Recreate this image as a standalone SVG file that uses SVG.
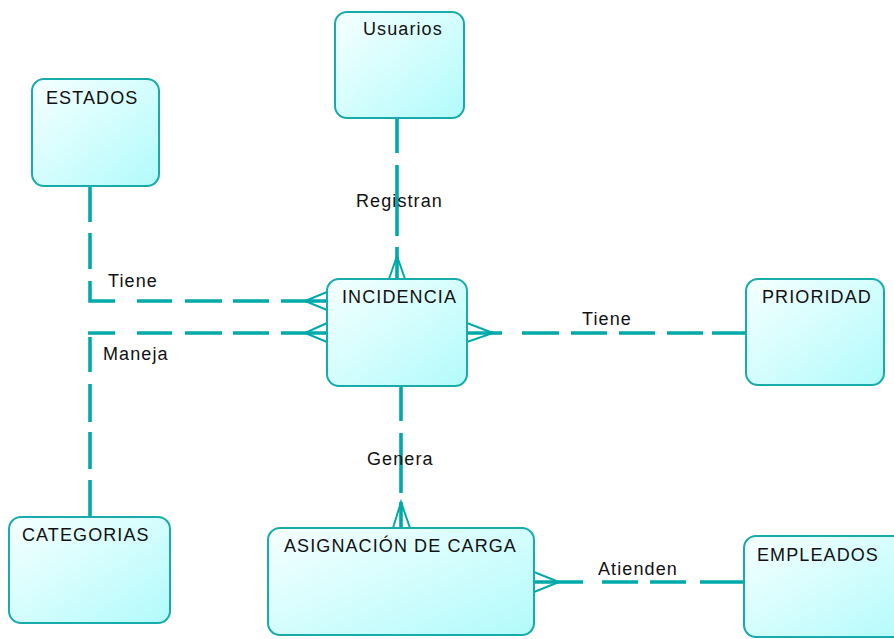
<svg xmlns="http://www.w3.org/2000/svg" width="894" height="639" viewBox="0 0 894 639">
  <defs>
    <linearGradient id="entityFill" x1="0" y1="0" x2="1" y2="1">
      <stop offset="0" stop-color="#f6ffff"/>
      <stop offset="1" stop-color="#b2fbfb"/>
    </linearGradient>
    <style>
      .entity rect { fill: url(#entityFill); stroke: #17abab; stroke-width: 2; }
      .entity text { font-family: "Liberation Sans", Arial, sans-serif; font-size: 18px; letter-spacing: 1.1px; fill: #111; }
      .rel { stroke: #00a9a9; stroke-width: 3.6; fill: none; stroke-linecap: butt; }
      .foot { stroke: #00a9a9; stroke-width: 2; fill: none; }
      .label { font-family: "Liberation Sans", Arial, sans-serif; font-size: 18px; letter-spacing: 1.1px; fill: #111; }
    </style>
  </defs>

  <rect width="894" height="639" fill="#ffffff"/>

  <!-- relationships -->
  <g id="connectors">
    <!-- Usuarios registran INCIDENCIA -->
    <path class="rel" d="M397 118V153M397 165V236M397 247V279"/>
    <path class="foot" d="M389 279L397 256L405 279"/>
    <text class="label" x="356" y="207">Registran</text>

    <!-- INCIDENCIA genera ASIGNACIÓN DE CARGA -->
    <path class="rel" d="M401 386V421M401 433V493M401 502V528"/>
    <path class="foot" d="M393 528L401 502L410 528"/>
    <text class="label" x="367" y="465">Genera</text>

    <!-- INCIDENCIA tiene PRIORIDAD -->
    <path class="rel" d="M467 333H502M522 333H559M571 333H607M619 333H655M667 333H703M712 333H746"/>
    <path class="foot" d="M467 323L493 333L467 342"/>
    <text class="label" x="582" y="325">Tiene</text>

    <!-- ESTADOS tiene INCIDENCIA -->
    <path class="rel" d="M90 186V222M90 233V269M90 281V301H115M137 301H172M185 301H222M233 301H269M281 301H327"/>
    <path class="foot" d="M327 292L305 301L327 310"/>
    <text class="label" x="108" y="287">Tiene</text>

    <!-- CATEGORIAS maneja INCIDENCIA -->
    <path class="rel" d="M90 517V480M90 469V432M90 422V384M90 372V337"/>
    <path class="rel" d="M88 333H115M137 333H172M185 333H222M233 333H269M281 333H327"/>
    <path class="foot" d="M327 323L305 333L327 342"/>
    <text class="label" x="103" y="360">Maneja</text>

    <!-- ASIGNACIÓN DE CARGA atienden EMPLEADOS -->
    <path class="rel" d="M534 582H583M602 582H638M650 582H686M700 582H744"/>
    <path class="foot" d="M534 572L559 582L534 592"/>
    <text class="label" x="598" y="575">Atienden</text>
  </g>

  <!-- entities -->
  <g id="usuarios" class="entity">
    <rect x="335" y="12" width="129" height="106" rx="12"/>
    <text x="363" y="35">Usuarios</text>
  </g>
  <g id="estados" class="entity">
    <rect x="32" y="79" width="127" height="107" rx="12"/>
    <text x="46" y="104">ESTADOS</text>
  </g>
  <g id="incidencia" class="entity">
    <rect x="327" y="279" width="140" height="107" rx="12"/>
    <text x="342" y="303">INCIDENCIA</text>
  </g>
  <g id="prioridad" class="entity">
    <rect x="746" y="279" width="138" height="106" rx="12"/>
    <text x="762" y="303">PRIORIDAD</text>
  </g>
  <g id="categorias" class="entity">
    <rect x="9" y="517" width="161" height="106" rx="12"/>
    <text x="22" y="541">CATEGORIAS</text>
  </g>
  <g id="asignacion-de-carga" class="entity">
    <rect x="268" y="528" width="266" height="107" rx="12"/>
    <text x="284" y="552">ASIGNACIÓN DE CARGA</text>
  </g>
  <g id="empleados" class="entity">
    <rect x="744" y="536" width="170" height="101" rx="12"/>
    <text x="757" y="561">EMPLEADOS</text>
  </g>
</svg>
